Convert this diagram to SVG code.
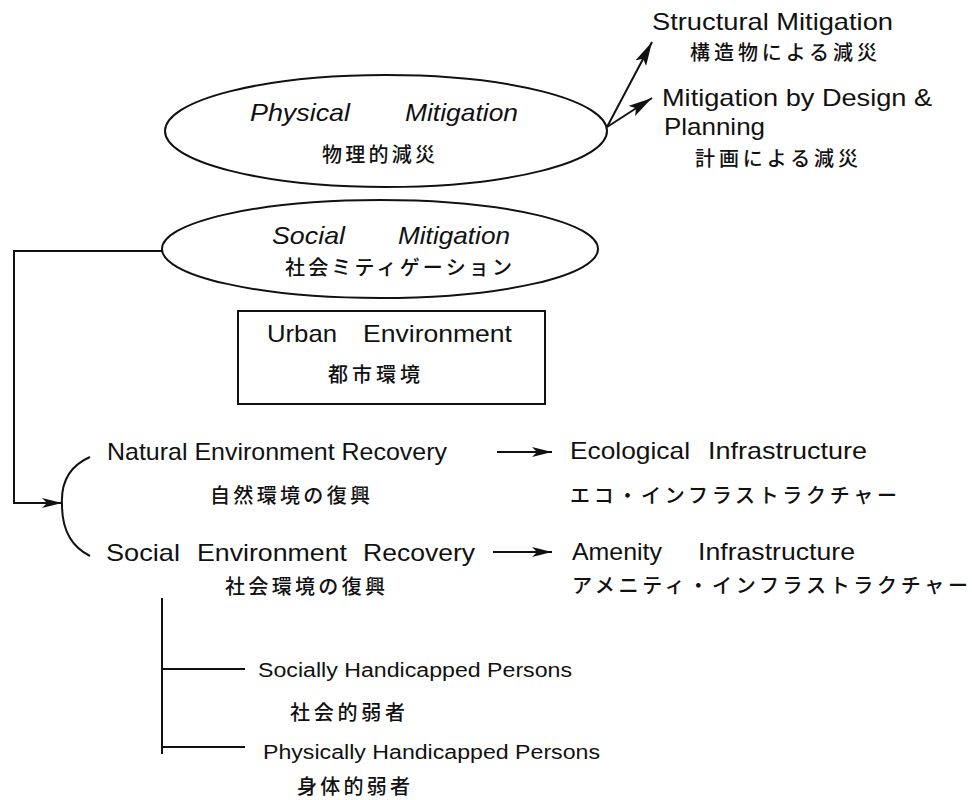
<svg xmlns="http://www.w3.org/2000/svg" width="972" height="800" viewBox="0 0 972 800">
<defs>
<style>
.en{font-family:"Liberation Sans",Arial,sans-serif;font-size:24px;fill:#111}
.it{font-style:italic}
.sm{font-size:20px}
.jp{font-family:"Noto Sans CJK JP","Noto Sans CJK SC",sans-serif;font-size:20px;font-weight:500;fill:#111}
.ln{fill:none;stroke:#111;stroke-width:2}
.shape{fill:#fff;stroke:#111;stroke-width:2}
</style>
<marker id="ah" viewBox="0 0 20 10" refX="20" refY="5" markerWidth="20" markerHeight="10" markerUnits="userSpaceOnUse" orient="auto">
<path d="M0,0 L20,5 L0,10 L5,5 Z" fill="#111"/>
</marker>
<marker id="ahb" viewBox="0 0 24 12" refX="24" refY="6" markerWidth="24" markerHeight="12" markerUnits="userSpaceOnUse" orient="auto">
<path d="M0,0 L24,6 L0,12 L5,6 Z" fill="#111"/>
</marker>
</defs>
<rect width="972" height="800" fill="#fff"/>

<g id="connectors">
<path class="ln" d="M607,127 L652,42" marker-end="url(#ahb)"/>
<path class="ln" d="M607,127 L652,98" marker-end="url(#ahb)"/>
<path class="ln" d="M162,251 L14,251 L14,503 L62,503" marker-end="url(#ah)"/>
<path class="ln" d="M90,457 Q60,470 62,505 Q62,542 90,556"/>
<path class="ln" d="M497,452 L552,452" marker-end="url(#ah)"/>
<path class="ln" d="M493,552 L552,552" marker-end="url(#ah)"/>
<path class="ln" d="M162,598 L162,754 M162,669 L245,669 M162,747 L245,747"/>
</g>

<g id="physical">
<ellipse class="shape" cx="386" cy="131" rx="221" ry="56"/>
<text class="en it" x="250" y="121" textLength="100" lengthAdjust="spacingAndGlyphs">Physical</text>
<text class="en it" x="405" y="121" textLength="113" lengthAdjust="spacingAndGlyphs">Mitigation</text>
<text class="jp" x="322" y="162" textLength="113" lengthAdjust="spacing">物理的減災</text>
</g>

<g id="structural">
<text class="en" x="652" y="30" textLength="241" lengthAdjust="spacingAndGlyphs">Structural Mitigation</text>
<text class="jp" x="690" y="60" textLength="187" lengthAdjust="spacing">構造物による減災</text>
</g>

<g id="design">
<text class="en" x="662" y="106" textLength="270" lengthAdjust="spacingAndGlyphs">Mitigation by Design &amp;</text>
<text class="en" x="664" y="135" textLength="101" lengthAdjust="spacingAndGlyphs">Planning</text>
<text class="jp" x="695" y="166" textLength="163" lengthAdjust="spacing">計画による減災</text>
</g>

<g id="social">
<ellipse class="shape" cx="380" cy="249" rx="218" ry="49"/>
<text class="en it" x="272" y="244" textLength="73" lengthAdjust="spacingAndGlyphs">Social</text>
<text class="en it" x="398" y="244" textLength="112" lengthAdjust="spacingAndGlyphs">Mitigation</text>
<text class="jp" x="285" y="275" textLength="227" lengthAdjust="spacing">社会ミティゲーション</text>
</g>

<g id="urban">
<rect class="shape" x="238" y="311" width="307" height="93"/>
<text class="en" x="267" y="342" textLength="70" lengthAdjust="spacingAndGlyphs">Urban</text>
<text class="en" x="363" y="342" textLength="149" lengthAdjust="spacingAndGlyphs">Environment</text>
<text class="jp" x="328" y="382" textLength="92" lengthAdjust="spacing">都市環境</text>
</g>

<g id="natural">
<text class="en" x="107" y="460" textLength="340" lengthAdjust="spacingAndGlyphs">Natural Environment Recovery</text>
<text class="jp" x="210" y="503" textLength="160" lengthAdjust="spacing">自然環境の復興</text>
</g>

<g id="ecological">
<text class="en" x="570" y="459" textLength="120" lengthAdjust="spacingAndGlyphs">Ecological</text>
<text class="en" x="708" y="459" textLength="159" lengthAdjust="spacingAndGlyphs">Infrastructure</text>
<text class="jp" x="570" y="503" textLength="327" lengthAdjust="spacing">エコ・インフラストラクチャー</text>
</g>

<g id="socialenv">
<text class="en" x="106" y="561" textLength="74" lengthAdjust="spacingAndGlyphs">Social</text>
<text class="en" x="197" y="561" textLength="150" lengthAdjust="spacingAndGlyphs">Environment</text>
<text class="en" x="363" y="561" textLength="112" lengthAdjust="spacingAndGlyphs">Recovery</text>
<text class="jp" x="225" y="594" textLength="160" lengthAdjust="spacing">社会環境の復興</text>
</g>

<g id="amenity">
<text class="en" x="572" y="560" textLength="90" lengthAdjust="spacingAndGlyphs">Amenity</text>
<text class="en" x="698" y="560" textLength="157" lengthAdjust="spacingAndGlyphs">Infrastructure</text>
<text class="jp" x="572" y="593" textLength="396" lengthAdjust="spacing">アメニティ・インフラストラクチャー</text>
</g>

<g id="socially">
<text class="en sm" x="258" y="677" textLength="314" lengthAdjust="spacingAndGlyphs">Socially Handicapped Persons</text>
<text class="jp" x="290" y="720" textLength="115" lengthAdjust="spacing">社会的弱者</text>
</g>

<g id="physically">
<text class="en sm" x="263" y="759" textLength="337" lengthAdjust="spacingAndGlyphs">Physically Handicapped Persons</text>
<text class="jp" x="297" y="794" textLength="113" lengthAdjust="spacing">身体的弱者</text>
</g>
</svg>
